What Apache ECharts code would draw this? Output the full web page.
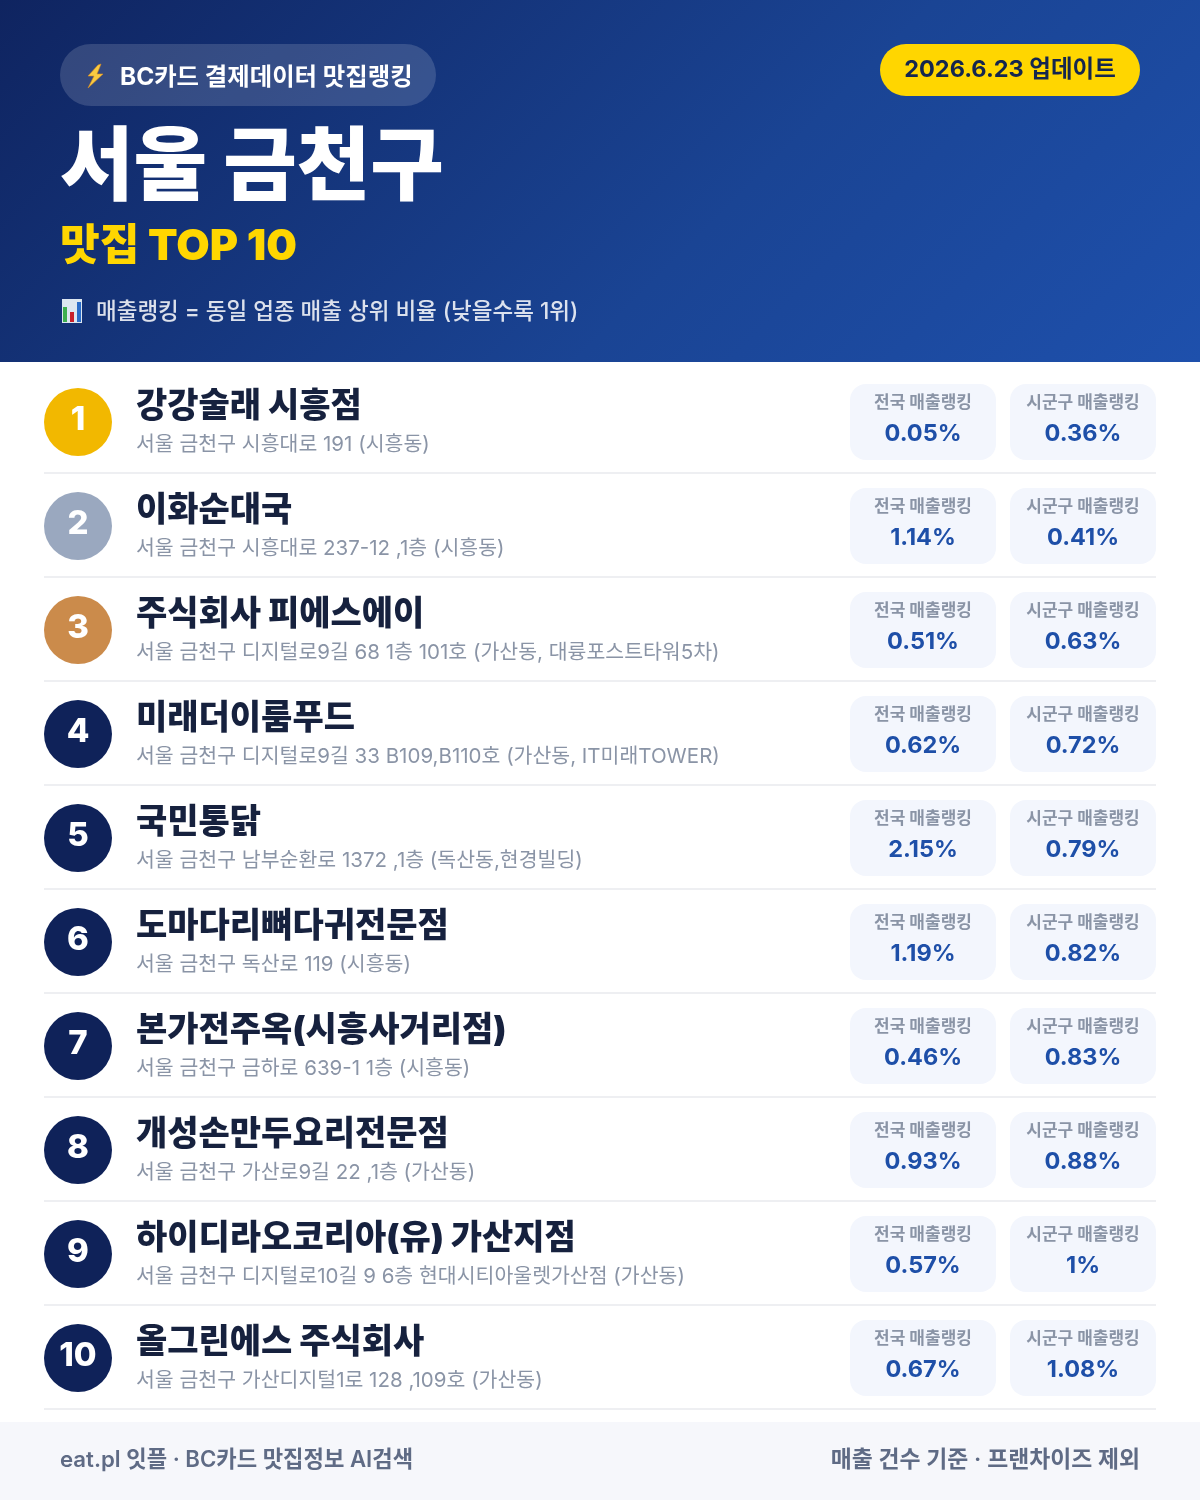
<!DOCTYPE html>
<html><head><meta charset="utf-8">
<style>html,body{margin:0;padding:0;background:#fff}#c{width:1200px;height:1500px}</style>
<script src="https://cdn.jsdelivr.net/npm/echarts@6/dist/echarts.min.js"></script>
</head><body><div id="c"></div>
<script>
const FONT = 'Inter,"Noto Sans CJK KR",sans-serif';
const badgeText = 'BC카드 결제데이터 맛집랭킹';
const updateText = '2026.6.23 업데이트';
const titleText = '서울 금천구';
const subtitleText = '맛집 TOP 10';
const noteText = '매출랭킹 = 동일 업종 매출 상위 비율 (낮을수록 1위)';
const footerLeft = 'eat.pl 잇플 · BC카드 맛집정보 AI검색';
const footerRight = '매출 건수 기준 · 프랜차이즈 제외';
const nationalLabel = '전국 매출랭킹';
const localLabel = '시군구 매출랭킹';

const ranks = ['1','2','3','4','5','6','7','8','9','10'];
const names = ['강강술래 시흥점','이화순대국','주식회사 피에스에이','미래더이룸푸드','국민통닭','도마다리뼈다귀전문점','본가전주옥(시흥사거리점)','개성손만두요리전문점','하이디라오코리아(유) 가산지점','올그린에스 주식회사'];
const addresses = ['서울 금천구 시흥대로 191 (시흥동)','서울 금천구 시흥대로 237-12 ,1층 (시흥동)','서울 금천구 디지털로9길 68 1층 101호 (가산동, 대륭포스트타워5차)','서울 금천구 디지털로9길 33 B109,B110호 (가산동, IT미래TOWER)','서울 금천구 남부순환로 1372 ,1층 (독산동,현경빌딩)','서울 금천구 독산로 119 (시흥동)','서울 금천구 금하로 639-1 1층 (시흥동)','서울 금천구 가산로9길 22 ,1층 (가산동)','서울 금천구 디지털로10길 9 6층 현대시티아울렛가산점 (가산동)','서울 금천구 가산디지털1로 128 ,109호 (가산동)'];
const nationalRank = [0.05,1.14,0.51,0.62,2.15,1.19,0.46,0.93,0.57,0.67];
const localRank = [0.36,0.41,0.63,0.72,0.79,0.82,0.83,0.88,1,1.08];
const medalColors = ['#F2B800','#9AA8BF','#CB8B4B'];
const otherColor = '#0F2259';

function txt(x,y,text,size,weight,fill,align){
  return {type:'text',style:{x,y,text,fill,align:align||'left',verticalAlign:'middle',
    font:`${weight} ${size}px ${FONT}`}};
}
function box(x,y,label,val){
  const cx=x+73;
  return [
    {type:'rect',shape:{x,y:y-38,width:146,height:76,r:16},style:{fill:'#F3F6FD'}},
    txt(cx,y-19,label,17,700,'#8A94A6','center'),
    txt(cx,y+12,val+'%',23.5,700,'#1E4FA8','center')
  ];
}
function renderRow(params,api){
  const i=params.dataIndex;
  const y=api.coord([0,i])[1];
  return {type:'group',children:[
    {type:'circle',shape:{cx:78,cy:y,r:34},style:{fill:i<3?medalColors[i]:otherColor}},
    txt(78,y-2,ranks[i],33,800,'#fff','center'),
    txt(136,y-15,names[i],34,900,'#16213E'),
    txt(136,y+23,addresses[i],20.5,400,'#8A94A6'),
    ...box(850,y,nationalLabel,api.value(1)),
    ...box(1010,y,localLabel,api.value(2)),
    {type:'rect',shape:{x:44,y:y+50,width:1112,height:2},style:{fill:'#EEEFF2'}}
  ]};
}
const G = (o)=>Object.assign({silent:true},o);
const option={
  animation:false,
  backgroundColor:'#fff',
  grid:{left:0,right:0,top:370,height:1040},
  xAxis:{type:'value',min:0,max:1200,show:false},
  yAxis:{type:'category',inverse:true,show:false,data:ranks},
  graphic:{elements:[
    G({type:'rect',shape:{x:0,y:0,width:1200,height:362},z:-1,
      style:{fill:new echarts.graphic.LinearGradient(209.5,-209.5,990.5,571.5,[{offset:0,color:'#0F2460'},{offset:0.6,color:'#1A4494'},{offset:1,color:'#1E50AC'}],true)}}),
    G({type:'rect',shape:{x:60,y:44,width:376,height:62,r:31},style:{fill:'rgba(255,255,255,0.15)'}}),
    G({type:'polygon',shape:{points:[[98,65],[88,76],[94,76],[88,88],[103,74],[97,74],[101,64]]},style:{fill:'#F9CB42',stroke:'#D98A1E',lineWidth:0.6}}),
    G({type:'text',style:{x:120,y:78,text:badgeText,fill:'#fff',font:`700 24.4px ${FONT}`,verticalAlign:'middle'}}),
    G({type:'rect',shape:{x:880,y:44,width:260,height:52,r:26},style:{fill:'#FFD600'}}),
    G({type:'text',style:{x:1010,y:70,text:updateText,fill:'#14264F',font:`700 23.5px ${FONT}`,align:'center',verticalAlign:'middle'}}),
    G({type:'text',style:{x:60,y:169,text:titleText,fill:'#fff',font:`900 80px ${FONT}`,verticalAlign:'middle'}}),
    G({type:'text',style:{x:60,y:247,text:subtitleText,fill:'#FFD600',font:`900 43.2px ${FONT}`,verticalAlign:'middle'}}),
    G({type:'rect',shape:{x:62,y:299,width:20,height:24},style:{fill:'#DCE6F0'}}),
    G({type:'rect',shape:{x:63,y:307,width:4,height:15},style:{fill:'#3DAE4E'}}),
    G({type:'rect',shape:{x:70,y:312,width:4,height:10},style:{fill:'#C8202A'}}),
    G({type:'rect',shape:{x:77,y:302,width:4,height:20},style:{fill:'#2A6CC8'}}),
    G({type:'text',style:{x:96,y:312,text:noteText,fill:'rgba(255,255,255,0.85)',font:`500 22.5px ${FONT}`,verticalAlign:'middle'}}),
    G({type:'rect',shape:{x:0,y:1422,width:1200,height:78},style:{fill:'#F6F7FB'}}),
    G({type:'text',style:{x:60,y:1460,text:footerLeft,fill:'#5F6B85',font:`600 22.2px ${FONT}`,verticalAlign:'middle'}}),
    G({type:'text',style:{x:1140,y:1460,text:footerRight,fill:'#5F6B85',font:`600 22.85px ${FONT}`,align:'right',verticalAlign:'middle'}})
  ]},
  series:[{type:'custom',coordinateSystem:'cartesian2d',silent:true,clip:false,
    encode:{y:0,x:1},renderItem:renderRow,
    data:ranks.map((r,i)=>[r,nationalRank[i],localRank[i]])}]
};
const chart=echarts.init(document.getElementById('c'),null,{renderer:'canvas'});
chart.setOption(option);
</script></body></html>
